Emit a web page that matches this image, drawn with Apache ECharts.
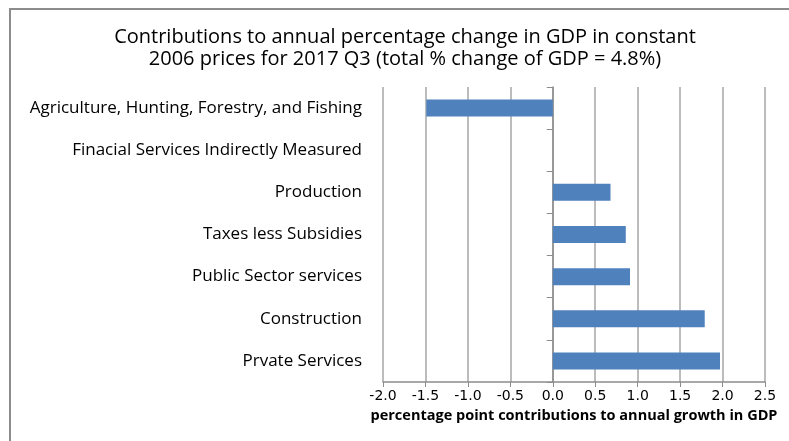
<!DOCTYPE html>
<html><head><meta charset="utf-8">
<script src="https://cdn.jsdelivr.net/npm/echarts@6/dist/echarts.min.js"></script>
<style>html,body{margin:0;padding:0;background:#fff}#c{width:789px;height:441px}</style>
</head><body><div id="c"></div>
<script>
var categories = ["Agriculture, Hunting, Forestry, and Fishing","Finacial Services Indirectly Measured","Production","Taxes less Subsidies","Public Sector services","Construction","Prvate Services"];
var values = [-1.49, 0, 0.68, 0.86, 0.91, 1.79, 1.97];
var titleText = "Contributions to annual percentage change in GDP in constant\n2006 prices for 2017 Q3 (total % change of GDP = 4.8%)";
var xAxisName = "percentage point contributions to annual growth in GDP";

var chart = echarts.init(document.getElementById('c'));
chart.setOption({
  animation:false,
  backgroundColor:'#fff',
  graphic:[{type:'rect',shape:{x:10,y:9,width:800,height:450},style:{fill:'none',stroke:'#8c8c8c',lineWidth:2},silent:true}],
  title:{text:titleText,left:400,textAlign:'center',top:21,textStyle:{fontFamily:'Open Sans',fontWeight:'normal',fontSize:20,color:'#000',lineHeight:22}},
  grid:{left:383,right:24,top:87,bottom:59,containLabel:false,outerBoundsMode:'none'},
  xAxis:{type:'value',min:-2,max:2.5,interval:0.5,
    name:xAxisName,nameLocation:'middle',nameGap:25,
    nameTextStyle:{fontFamily:'Open Sans',fontWeight:'bold',fontSize:14.5,color:'#000'},
    axisLine:{show:true,lineStyle:{color:'#8c8c8c',width:1.5}},
    axisTick:{show:true,length:5,lineStyle:{color:'#8c8c8c'}},
    axisLabel:{formatter:function(v){return v.toFixed(1);},fontFamily:'DejaVu Sans',fontSize:14,color:'#000',margin:7},
    splitLine:{show:true,lineStyle:{color:'#a6a6a6',width:1.5}}},
  yAxis:{type:'category',data:categories,inverse:true,
    axisLine:{onZero:true,lineStyle:{color:'#8c8c8c',width:1.5}},
    axisTick:{show:true,length:6,lineStyle:{color:'#8c8c8c'}},
    axisLabel:{margin:21,fontFamily:'Open Sans',fontSize:17,color:'#000'}},
  series:[{type:'bar',data:values,barWidth:17,itemStyle:{color:'#4F81BD'}}]
});
</script></body></html>
